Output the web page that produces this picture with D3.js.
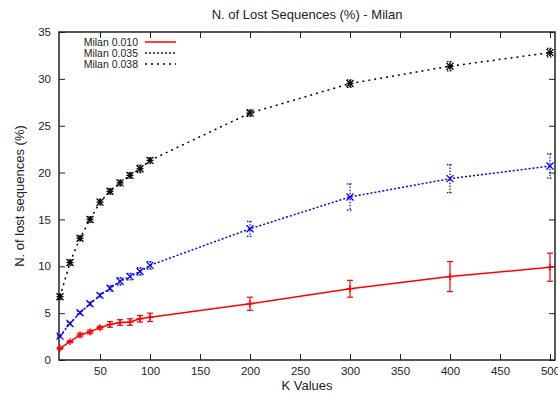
<!DOCTYPE html>
<html>
<head>
<meta charset="utf-8">
<script src="https://cdn.jsdelivr.net/npm/d3@7"></script>
<style>
  body { margin: 0; background: #fff; }
  text { font-family: "Liberation Sans", Arial, sans-serif; fill: #222; }
</style>
</head>
<body>
<div id="chart"></div>
<script>
const kValues = [10, 20, 30, 40, 50, 60, 70, 80, 90, 100, 200, 300, 400, 500];

const milan010 = [1.25, 1.95, 2.67, 3.0, 3.45, 3.8, 4.0, 4.05, 4.4, 4.55, 6.0, 7.6, 8.9, 9.9];
const milan010Err = [0.1, 0.1, 0.2, 0.2, 0.15, 0.3, 0.3, 0.35, 0.35, 0.45, 0.7, 0.9, 1.6, 1.5];

const milan035 = [2.55, 3.9, 5.05, 6.0, 6.9, 7.65, 8.4, 8.9, 9.45, 10.1, 14.0, 17.4, 19.35, 20.7];
const milan035Err = [0.1, 0.15, 0.15, 0.2, 0.2, 0.3, 0.4, 0.35, 0.4, 0.4, 0.8, 1.4, 1.5, 1.3];

const milan038 = [6.75, 10.4, 13.0, 15.0, 16.85, 18.0, 18.9, 19.7, 20.4, 21.3, 26.35, 29.5, 31.35, 32.8];
const milan038Err = [0.25, 0.3, 0.25, 0.3, 0.3, 0.3, 0.3, 0.3, 0.4, 0.3, 0.35, 0.4, 0.5, 0.45];

const xTicks = [50, 100, 150, 200, 250, 300, 350, 400, 450, 500];
const yTicks = [0, 5, 10, 15, 20, 25, 30, 35];

const margin = { top: 32, right: 3, bottom: 34, left: 59 },
    width = 558 - margin.left - margin.right,
    height = 394 - margin.top - margin.bottom;

const svg = d3.select("#chart")
    .append("svg")
    .attr("width", 558)
    .attr("height", 394);

const g = svg.append("g")
    .attr("transform", `translate(${margin.left},${margin.top})`);

const x = d3.scaleLinear().domain([9, 505]).range([0, width]);
const y = d3.scaleLinear().domain([0, 35]).range([height, 0]);

// axes, ticks pointing inward, mirrored on top / right
g.append("g")
    .attr("transform", `translate(0,${height})`)
    .call(d3.axisBottom(x).tickValues(xTicks).tickSize(-6).tickPadding(7))
    .call(a => a.select(".domain").remove())
    .selectAll(".tick text").style("font-size", "11.5px");

g.append("g")
    .call(d3.axisTop(x).tickValues(xTicks).tickSize(-6).tickFormat(""))
    .call(a => a.select(".domain").remove());

g.append("g")
    .call(d3.axisLeft(y).tickValues(yTicks).tickSize(-6).tickPadding(8))
    .call(a => a.select(".domain").remove())
    .selectAll(".tick text").style("font-size", "11.5px");

g.append("g")
    .attr("transform", `translate(${width},0)`)
    .call(d3.axisRight(y).tickValues(yTicks).tickSize(-6).tickFormat(""))
    .call(a => a.select(".domain").remove());

g.selectAll(".tick line").attr("stroke", "#222");

g.append("rect")
    .attr("width", width)
    .attr("height", height)
    .attr("fill", "none")
    .attr("stroke", "#222")
    .attr("stroke-width", 1.5);

svg.append("text")
    .attr("x", 307)
    .attr("y", 19)
    .attr("text-anchor", "middle")
    .style("font-size", "13px")
    .text("N. of Lost Sequences (%) - Milan");

svg.append("text")
    .attr("x", 307)
    .attr("y", 390)
    .attr("text-anchor", "middle")
    .style("font-size", "13px")
    .text("K Values");

svg.append("text")
    .attr("transform", "rotate(-90)")
    .attr("x", -(margin.top + height / 2))
    .attr("y", 24)
    .attr("text-anchor", "middle")
    .style("font-size", "13px")
    .text("N. of lost sequences (%)");

const series = [
    { name: "Milan 0.010", vals: milan010, err: milan010Err, color: "#ff0000", dash: null, errDash: null, marker: "plus" },
    { name: "Milan 0.035", vals: milan035, err: milan035Err, color: "#0000ff", dash: "2,2", errDash: "1.5,1.5", marker: "cross" },
    { name: "Milan 0.038", vals: milan038, err: milan038Err, color: "#000000", dash: "2,4", errDash: "1.5,1.5", marker: "star" }
];

const line = d3.line()
    .x(d => x(d.k))
    .y(d => y(d.v));

series.forEach(s => {
    const pts = kValues.map((k, i) => ({ k: k, v: s.vals[i], e: s.err[i] }));

    g.append("path")
        .datum(pts)
        .attr("fill", "none")
        .attr("stroke", s.color)
        .attr("stroke-width", 1.5)
        .attr("stroke-dasharray", s.dash)
        .attr("d", line);

    const eb = g.append("g")
        .attr("stroke", s.color)
        .attr("stroke-width", 1.2)
        .attr("stroke-dasharray", s.errDash);

    pts.forEach(p => {
        const x0 = x(p.k), yTop = y(p.v + p.e), yBot = y(p.v - p.e);
        eb.append("line").attr("x1", x0).attr("x2", x0).attr("y1", yTop).attr("y2", yBot);
        eb.append("line").attr("x1", x0 - 3).attr("x2", x0 + 3).attr("y1", yTop).attr("y2", yTop);
        eb.append("line").attr("x1", x0 - 3).attr("x2", x0 + 3).attr("y1", yBot).attr("y2", yBot);
    });

    const mk = g.append("g")
        .attr("stroke", s.color)
        .attr("stroke-width", 1.3);

    pts.forEach(p => {
        const cx = x(p.k), cy = y(p.v), r = 3.5;
        if (s.marker === "plus" || s.marker === "star") {
            mk.append("line").attr("x1", cx - r).attr("x2", cx + r).attr("y1", cy).attr("y2", cy);
            mk.append("line").attr("x1", cx).attr("x2", cx).attr("y1", cy - r).attr("y2", cy + r);
        }
        if (s.marker === "cross" || s.marker === "star") {
            mk.append("line").attr("x1", cx - r).attr("x2", cx + r).attr("y1", cy - r).attr("y2", cy + r);
            mk.append("line").attr("x1", cx - r).attr("x2", cx + r).attr("y1", cy + r).attr("y2", cy - r);
        }
    });
});

// legend
const legend = svg.append("g");
series.forEach((s, i) => {
    const ly = 42 + i * 11;
    legend.append("text")
        .attr("x", 138)
        .attr("y", ly)
        .attr("dy", "0.35em")
        .attr("text-anchor", "end")
        .style("font-size", "10.5px")
        .text(s.name);
    legend.append("line")
        .attr("x1", 145)
        .attr("x2", 176)
        .attr("y1", ly)
        .attr("y2", ly)
        .attr("stroke", s.color)
        .attr("stroke-width", 1.5)
        .attr("stroke-dasharray", s.dash);
});
</script>
</body>
</html>
